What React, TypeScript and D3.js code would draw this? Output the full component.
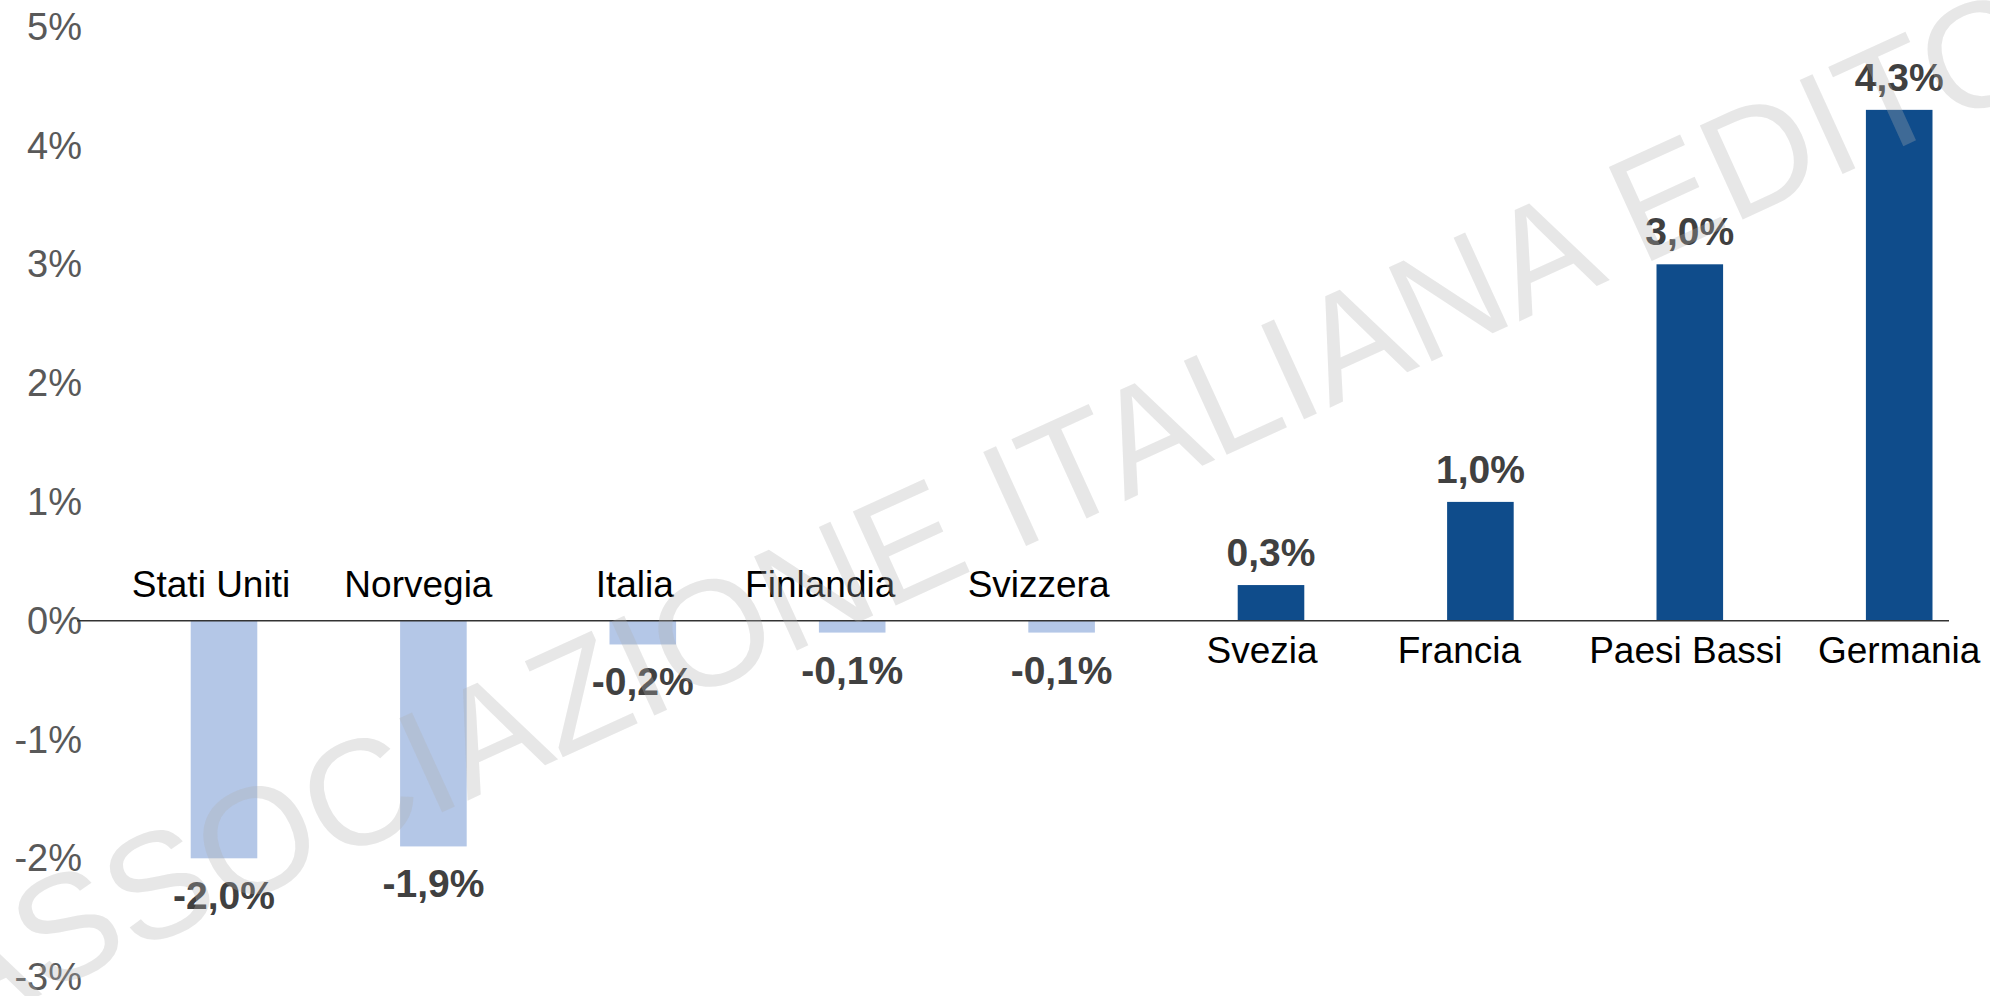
import React from "react";
import * as d3 from "d3";

const categories = ["Stati Uniti", "Norvegia", "Italia", "Finlandia", "Svizzera", "Svezia", "Francia", "Paesi Bassi", "Germania"];
const values = [-2.0, -1.9, -0.2, -0.1, -0.1, 0.3, 1.0, 3.0, 4.3];
const yTicks = [-3, -2, -1, 0, 1, 2, 3, 4, 5];
const watermark = "ASSOCIAZIONE ITALIANA EDITORI";

const W = 1990;
const H = 996;

export default function App() {
  const x = d3.scaleBand<string>().domain(categories).range([119.3, 2003.9]).paddingInner(0.682).paddingOuter(0.341);
  const y = d3.scaleLinear().domain([-3, 5]).range([977.1, 26.7]);
  const fmt = (v: number) => d3.format(".1f")(v).replace(".", ",").replace("−", "-") + "%";
  const y0 = y(0);
  // small horizontal nudges of category labels, as placed in the original layout
  const labelNudge: Record<string, number> = {
    "Stati Uniti": -13,
    Norvegia: -15,
    Italia: -8,
    Finlandia: -32,
    Svizzera: -23,
    Svezia: -9,
    Francia: -21,
    "Paesi Bassi": -4,
    Germania: 0,
  };
  return (
    <div style={{ position: "fixed", left: 0, top: 0 }}>
      <svg width={W} height={H} style={{ display: "block", background: "#fff" }} fontFamily="'Liberation Sans', Arial, sans-serif">
        {yTicks.map((t) => (
          <text key={t} x={82} y={y(t)} textAnchor="end" dominantBaseline="central" fontSize={38} fill="#595959">
            {t}%
          </text>
        ))}
        {categories.map((c, i) => {
          const v = values[i];
          const top = Math.min(y(v), y0);
          const h = Math.abs(y(v) - y0);
          return (
            <rect key={c} x={x(c)} y={top} width={x.bandwidth()} height={h} fill={v < 0 ? "#b4c7e7" : "#0f4c8b"} />
          );
        })}
        <line x1={77} x2={1949} y1={y0} y2={y0} stroke="#333" strokeWidth={1.5} />
        {categories.map((c, i) => {
          const v = values[i];
          const cx = (x(c) as number) + x.bandwidth() / 2;
          return (
            <g key={c}>
              <text x={cx + labelNudge[c]} y={v < 0 ? y0 - 24 : y0 + 42} textAnchor="middle" fontSize={37} fill="#000">
                {c}
              </text>
              <text x={cx} y={v < 0 ? y(v) + 51 : y(v) - 19} textAnchor="middle" fontSize={39} fontWeight="bold" fill="#404040">
                {fmt(v)}
              </text>
            </g>
          );
        })}
        <text
          x={1050}
          y={478}
          textAnchor="middle"
          dominantBaseline="central"
          fontSize={150}
          fill="#b0b0b0"
          fillOpacity={0.3}
          transform="rotate(-24.5 1050 478)"
        >
          {watermark}
        </text>
      </svg>
    </div>
  );
}
